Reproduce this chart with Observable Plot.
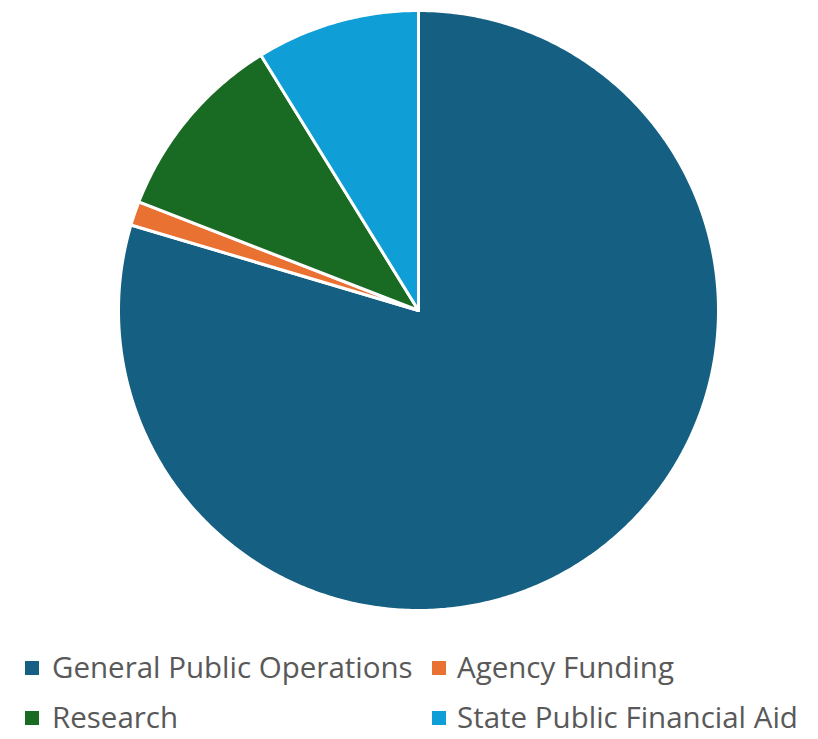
<!DOCTYPE html>
<html>
<head>
<meta charset="utf-8">
<script src="https://cdn.jsdelivr.net/npm/d3@7"></script>
<script src="https://cdn.jsdelivr.net/npm/@observablehq/plot@0.6"></script>
<style>
  body { margin: 0; background: #fff; font-family: "Open Sans", sans-serif; overflow: hidden; }
  #wrap { position: relative; width: 818px; height: 739px; overflow: hidden; }
  .lt { position: absolute; font-size: 29.5px; line-height: 0.9; color: #595959; white-space: nowrap; }
  .sw { position: absolute; width: 14px; height: 14px; }
</style>
</head>
<body>
<div id="wrap"></div>
<script>
const categories = ["General Public Operations", "Agency Funding", "Research", "State Public Financial Aid"];
const shares = [79.6, 1.3, 10.3, 8.8];
const colors = ["#156082", "#E97132", "#196B24", "#0F9ED5"];

const arcs = d3.pie().sort(null).value(d => d)(shares);
const pts = [];
arcs.forEach((a, i) => {
  const cat = categories[i];
  pts.push({cat, x: 0, y: 0});
  const n = Math.max(4, Math.ceil((a.endAngle - a.startAngle) / 0.01));
  for (let k = 0; k <= n; k++) {
    const t = a.startAngle + (a.endAngle - a.startAngle) * k / n;
    pts.push({cat, x: Math.sin(t), y: Math.cos(t)});
  }
});

const chart = Plot.plot({
  width: 818,
  height: 620,
  marginLeft: 118,
  marginRight: 100,
  marginTop: 10,
  marginBottom: 10,
  x: {domain: [-1, 1], axis: null},
  y: {domain: [-1, 1], axis: null},
  color: {domain: categories, range: colors},
  marks: [
    Plot.line(pts, {x: "x", y: "y", z: "cat", fill: "cat", stroke: "white", strokeWidth: 3, curve: "linear-closed", strokeLinejoin: "round"})
  ]
});
const wrap = document.getElementById("wrap");
chart.style.display = "block";
wrap.appendChild(chart);

// [swatch x, text x, baseline y]
const legPos = [[25, 52, 679], [432, 457, 679], [25, 52, 729], [432, 457, 729]];
categories.forEach((c, i) => {
  const [sx, tx, by] = legPos[i];
  const s = document.createElement("div");
  s.className = "sw";
  s.style.background = colors[i];
  s.style.left = sx + "px";
  s.style.top = (by - 18) + "px";
  wrap.appendChild(s);
  const t = document.createElement("div");
  t.className = "lt";
  t.textContent = c;
  t.style.left = tx + "px";
  t.style.top = (by - 24.7) + "px";
  wrap.appendChild(t);
});
</script>
</body>
</html>
